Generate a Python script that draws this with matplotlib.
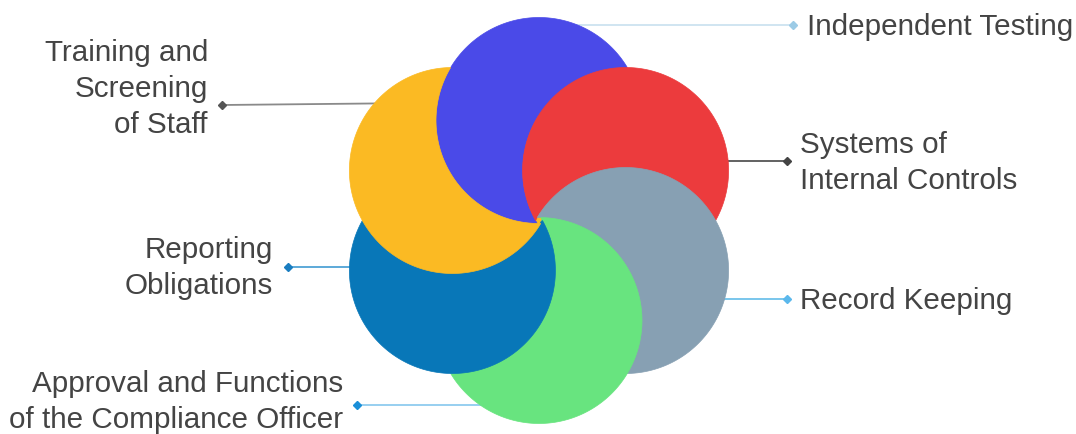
import numpy as np
import matplotlib
matplotlib.use("Agg")
import matplotlib.pyplot as plt
from matplotlib.patches import Polygon, Circle

# circles, clockwise from the top
labels = ["Independent Testing", "Systems of\nInternal Controls", "Record Keeping",
          "Approval and Functions\nof the Compliance Officer", "Reporting\nObligations",
          "Training and\nScreening\nof Staff"]
colors = ["#4A4AE8", "#EC3B3D", "#87A0B3", "#68E47F", "#0877B8", "#FBBA23"]
angles = [90, 30, -30, -90, -150, 150]   # direction of each circle from the middle

# label anchor (x, y), alignment, connector (x0, x1, y), line colour, marker colour
text_pos = [(807, 27, "left"), (800, 163, "left"), (800, 301, "left"),
            (343, 402, "right"), (273, 268, "right"), (208, 89, "right")]
connectors = [(560, 793, 25, 25), (700, 787, 161, 161), (700, 787, 299, 299),
              (520, 357, 405, 405), (420, 288, 267, 267), (420, 222, 103, 105)]
line_cols = ["#CDE3F0", "#555555", "#6EC1EA", "#8FCBEF", "#4FA3D6", "#8A8A8A"]
mark_cols = ["#9CCBE6", "#444444", "#5BB8EC", "#1A8FD8", "#1A7DC0", "#555555"]

cx, cy = 539, 220.5
d, R = 100, 103

fig = plt.figure(figsize=(10.76, 4.34), dpi=100)
ax = fig.add_axes([0, 0, 1, 1])
ax.set_xlim(0, 1076)
ax.set_ylim(434, 0)
ax.axis("off")

centers = [(cx + d * np.cos(np.radians(a)), cy - d * np.sin(np.radians(a))) for a in angles]


def lune(a, b):
    # circle a minus circle b, both radius R
    a = np.array(a); b = np.array(b)
    v = b - a
    dist = np.hypot(*v)
    beta = np.arctan2(v[1], v[0])
    g = np.arccos(dist / (2 * R))
    t1 = np.linspace(beta + g, beta + 2 * np.pi - g, 300)
    t2 = np.linspace(beta + np.pi + g, beta + np.pi - g, 150)
    pa = np.c_[a[0] + R * np.cos(t1), a[1] + R * np.sin(t1)]
    pb = np.c_[b[0] + R * np.cos(t2), b[1] + R * np.sin(t2)]
    return np.vstack([pa, pb])


for (x0, x1, y0, y1), lc, mc in zip(connectors, line_cols, mark_cols):
    ax.plot([x0, x1], [y0, y1], color=lc, lw=1.3, zorder=1, solid_capstyle="butt")
    ax.plot([x1], [y1], marker="D", ms=4.5, color=mc, zorder=1)

# full discs underneath so the seams in the middle stay filled
for i, c in enumerate(colors):
    ax.add_patch(Circle(centers[i], R - 1, facecolor=c, edgecolor="none", zorder=1.5))

for i in range(len(colors)):
    nxt = (i + 1) % len(colors)
    ax.add_patch(Polygon(lune(centers[i], centers[nxt]), closed=True,
                         facecolor=colors[i], edgecolor=colors[i], lw=0.5, zorder=2))

for lab, (x, y, ha) in zip(labels, text_pos):
    ax.text(x, y, lab, ha=ha, va="center", fontsize=21.3, color="#444444",
            family="Liberation Sans", linespacing=1.38, multialignment=ha)

fig.savefig("out.png", dpi=100)
